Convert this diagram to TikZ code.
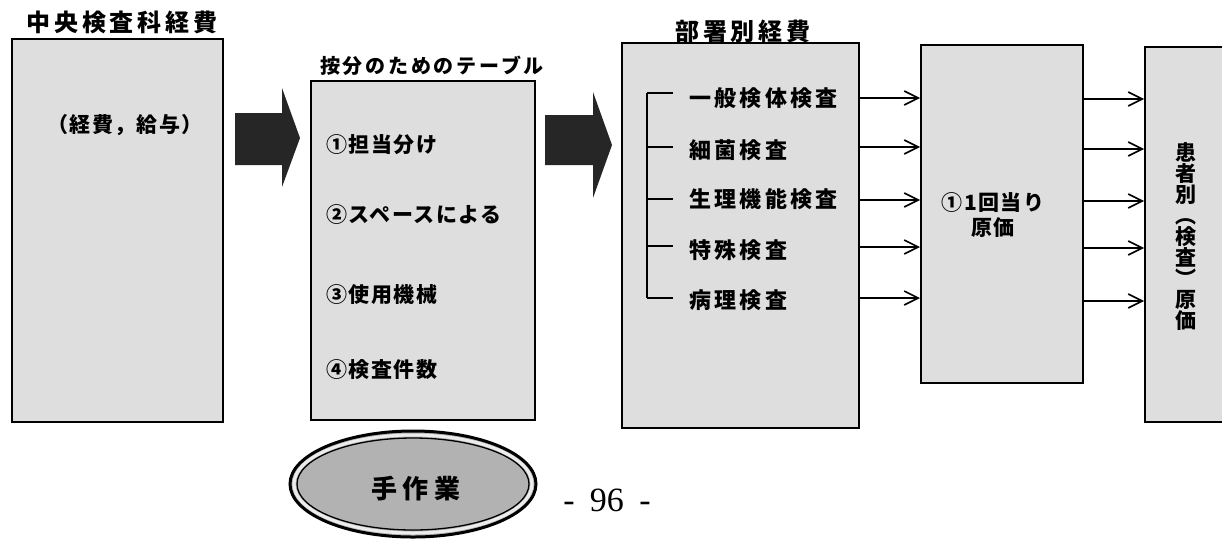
\documentclass[tikz,border=0pt]{standalone}
\usepackage{fontspec}
\setmainfont{Liberation Serif}
\newfontfamily\jp{Noto Sans CJK JP}
\usetikzlibrary{arrows.meta,shapes.geometric}
\tikzset{
  box/.style={draw, line width=2pt, fill=gray!26, inner sep=0pt},
  ttlA/.style={inner sep=0pt, font=\jp\bfseries\fontsize{24}{28}\selectfont\addfontfeature{LetterSpace=16}},
  ttlB/.style={inner sep=0pt, font=\jp\bfseries\fontsize{20}{24}\selectfont\addfontfeature{LetterSpace=14}},
  txt/.style={inner sep=0pt, font=\jp\bfseries\fontsize{21}{25}\selectfont\addfontfeature{LetterSpace=7}},
  txtW/.style={inner sep=0pt, font=\jp\bfseries\fontsize{22}{26}\selectfont\addfontfeature{LetterSpace=15}},
  txtV/.style={inner sep=0pt, align=center, font=\jp\bfseries\fontsize{21}{21}\selectfont},
  conn/.style={line width=1.6pt, -{Straight Barb[length=14pt,width=14pt,line width=1.6pt]}},
  bigarrow/.style={fill=black!85},
}
\begin{document}
\begin{tikzpicture}[x=1pt,y=-1pt]
\path[use as bounding box] (0,0) rectangle (1222,539);
\clip (0,0) rectangle (1222,539);

% boxes
\node[box, minimum width=211pt, minimum height=383pt] (b1) at (117.5,230.5) {};
\node[box, minimum width=224pt, minimum height=339pt] (b2) at (423,250.5) {};
\node[box, minimum width=237pt, minimum height=385pt] (b3) at (740.5,235.5) {};
\node[box, minimum width=162pt, minimum height=338pt] (b4) at (1002,214) {};
\node[box, minimum width=100pt, minimum height=375pt] (b5) at (1195,234.5) {};

% titles
\node[ttlA] (t1) at (122,22) {中央検査科経費};
\node[ttlB] (t2) at (432,66) {按分のためのテーブル};
\node[ttlA] (t3) at (743,31) {部署別経費};

% box 1 text
\node[txt] (p1) at (125,125) {（経費，給与）};

% box 2 texts
\node[txt, anchor=west] (q1) at (326,145) {①担当分け};
\node[txt, anchor=west] (q2) at (326,215) {②スペースによる};
\node[txt, anchor=west] (q3) at (326,295) {③使用機械};
\node[txt, anchor=west] (q4) at (326,370) {④検査件数};

% big arrows
\fill[bigarrow] (235,113) -- (282,113) -- (282,88) -- (300,138) -- (282,187) -- (282,165) -- (235,165) -- cycle;
\fill[bigarrow] (545,115) -- (593,115) -- (593,92) -- (612,145) -- (593,198) -- (593,165) -- (545,165) -- cycle;

% box 3 items with bracket
\draw[line width=1.2pt] (647,93) -- (647,298);
\foreach \y in {93,147,199,246,298} \draw[line width=1.2pt] (647,\y) -- (673,\y);
\node[txtW, anchor=west] (d1) at (689,98) {一般検体検査};
\node[txtW, anchor=west] (d2) at (689,150) {細菌検査};
\node[txtW, anchor=west] (d3) at (689,199) {生理機能検査};
\node[txtW, anchor=west] (d4) at (689,250) {特殊検査};
\node[txtW, anchor=west] (d5) at (689,300) {病理検査};

% connectors box3 -> box4
\foreach \i/\y in {1/98,2/147,3/200,4/247,5/298} {
  \coordinate (ya\i) at (0,\y);
  \draw[conn] (b3.east |- ya\i) -- (b4.west |- ya\i);
}
% connectors box4 -> box5
\foreach \i/\y in {1/99,2/149,3/201,4/248,5/301} {
  \coordinate (yb\i) at (0,\y);
  \draw[conn] (b4.east |- yb\i) -- (b5.west |- yb\i);
}

% box 4 text
\node[txt, align=center] (p4) at (993,215) {①1回当り\\原価};

% box 5 vertical text
\node[txtV] (p5) at (1186,237) {患\\者\\別\\︵\\検\\査\\︶\\原\\価};

% ellipse
\node[ellipse, draw, line width=3pt, fill=gray!60, minimum width=246pt, minimum height=106pt, inner sep=0pt] (e) at (413,484) {};
\draw[gray!15, line width=3pt] (e.center) ellipse [x radius=119, y radius=49];
\draw[line width=1.3pt] (e.center) ellipse [x radius=116, y radius=46];
\node[inner sep=0pt, font=\jp\bfseries\fontsize{26}{30}\selectfont\addfontfeature{LetterSpace=22}] (et) at (416,489) {手作業};

% page number
\node[inner sep=0pt, font=\fontsize{34}{40}\selectfont] (pg) at (607,500) {-\hspace{0.45em}96\hspace{0.45em}-};
\end{tikzpicture}
\end{document}
